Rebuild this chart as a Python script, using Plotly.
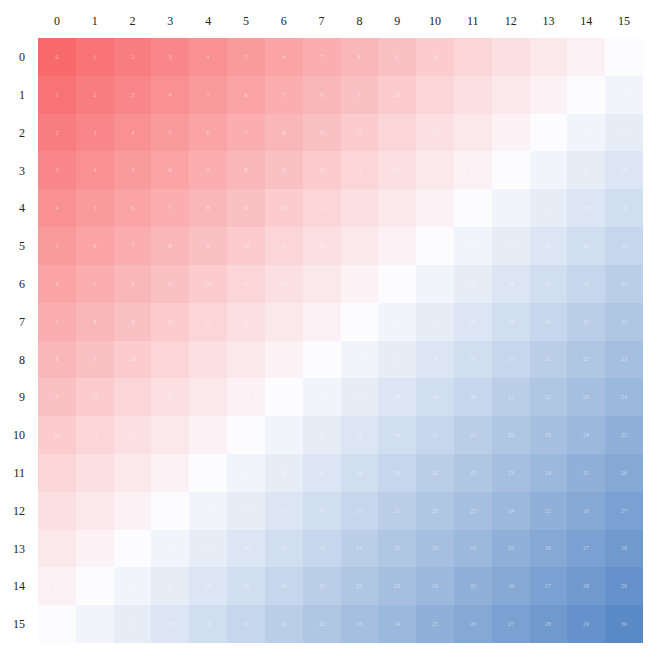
import plotly.graph_objects as go

x_labels = [str(i) for i in range(16)]
y_labels = [str(i) for i in range(16)]

values = [
    [0, 1, 2, 3, 4, 5, 6, 7, 8, 9, 10, 11, 12, 13, 14, 15],
    [1, 2, 3, 4, 5, 6, 7, 8, 9, 10, 11, 12, 13, 14, 15, 16],
    [2, 3, 4, 5, 6, 7, 8, 9, 10, 11, 12, 13, 14, 15, 16, 17],
    [3, 4, 5, 6, 7, 8, 9, 10, 11, 12, 13, 14, 15, 16, 17, 18],
    [4, 5, 6, 7, 8, 9, 10, 11, 12, 13, 14, 15, 16, 17, 18, 19],
    [5, 6, 7, 8, 9, 10, 11, 12, 13, 14, 15, 16, 17, 18, 19, 20],
    [6, 7, 8, 9, 10, 11, 12, 13, 14, 15, 16, 17, 18, 19, 20, 21],
    [7, 8, 9, 10, 11, 12, 13, 14, 15, 16, 17, 18, 19, 20, 21, 22],
    [8, 9, 10, 11, 12, 13, 14, 15, 16, 17, 18, 19, 20, 21, 22, 23],
    [9, 10, 11, 12, 13, 14, 15, 16, 17, 18, 19, 20, 21, 22, 23, 24],
    [10, 11, 12, 13, 14, 15, 16, 17, 18, 19, 20, 21, 22, 23, 24, 25],
    [11, 12, 13, 14, 15, 16, 17, 18, 19, 20, 21, 22, 23, 24, 25, 26],
    [12, 13, 14, 15, 16, 17, 18, 19, 20, 21, 22, 23, 24, 25, 26, 27],
    [13, 14, 15, 16, 17, 18, 19, 20, 21, 22, 23, 24, 25, 26, 27, 28],
    [14, 15, 16, 17, 18, 19, 20, 21, 22, 23, 24, 25, 26, 27, 28, 29],
    [15, 16, 17, 18, 19, 20, 21, 22, 23, 24, 25, 26, 27, 28, 29, 30],
]

fig = go.Figure(go.Heatmap(
    z=values, x=x_labels, y=y_labels,
    colorscale=[[0, "#F8696B"], [0.5, "#FCFCFF"], [1, "#5A8AC6"]],
    zmin=0, zmax=30, showscale=False, xgap=0, ygap=0,
    texttemplate="%{z}",
    textfont=dict(size=6, color="rgba(255,255,255,0.5)", family="Liberation Serif"),
))

fig.update_layout(
    width=652, height=649,
    margin=dict(l=30, r=17, t=30, b=14),
    paper_bgcolor="white", plot_bgcolor="white",
    font=dict(family="Liberation Serif", size=12, color="#222"),
    xaxis=dict(side="top", showgrid=False, zeroline=False, ticks="", ticklabelstandoff=10,
               type="category", automargin=False),
    yaxis=dict(autorange="reversed", showgrid=False, zeroline=False, ticks="",
               ticklabelstandoff=12, type="category", automargin=False),
)

fig.write_html("out.html")
